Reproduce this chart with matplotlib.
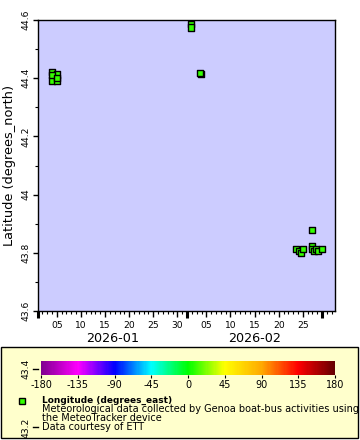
import matplotlib
matplotlib.use('Agg')
import matplotlib.pyplot as plt
import matplotlib.dates as mdates
from matplotlib.colors import LinearSegmentedColormap, Normalize
from matplotlib.patches import Rectangle
from matplotlib.ticker import MultipleLocator
import pandas as pd

# positions of the boat (drawing order matters, later ones sit on top)
times = ['2026-01-03T23:00', '2026-01-03T23:00', '2026-01-04T23:30', '2026-01-04T23:30',
         '2026-01-03T23:00', '2026-01-04T23:30',
         '2026-02-01T20:00', '2026-02-01T20:00',
         '2026-02-03T21:00', '2026-02-03T17:00',
         '2026-02-26T23:00',
         '2026-02-23T15:00', '2026-02-24T06:00', '2026-02-24T16:00', '2026-02-24T23:30',
         '2026-02-26T20:30', '2026-02-26T22:45', '2026-02-27T09:00', '2026-02-27T18:45',
         '2026-02-28T04:45', '2026-02-28T22:00']
lats = [44.421, 44.392, 44.413, 44.392,
        44.410, 44.401,
        44.586, 44.574,
        44.414, 44.419,
        43.878,
        43.813, 43.806, 43.799, 43.813,
        43.823, 43.813, 43.806, 43.813,
        43.806, 43.813]
lons = [8.93, 8.93, 8.92, 8.92,
        8.93, 8.92,
        8.90, 8.90,
        8.91, 8.91,
        8.88,
        8.89, 8.89, 8.88, 8.89,
        8.88, 8.88, 8.89, 8.89,
        8.88, 8.89]

cbar_ticks = [-180, -135, -90, -45, 0, 45, 90, 135, 180]
cbar_colors = ['#800090', '#ff00ff', '#0000ff', '#00ffff', '#00ff00',
               '#ffff00', '#ffaa00', '#ff0000', '#660000']
months = ['2026-01', '2026-02']
month_mid = ['2026-01-16T12:00', '2026-02-15T00:00']
day_ticks = [5, 10, 15, 20, 25, 30]

legend_lines = ['Meteorological data collected by Genoa boat-bus activities using',
                'the MeteoTracker device',
                'Data courtesy of ETT']

W, H = 360, 440


def px(x, y, w, h):
    return [x / W, 1 - (y + h) / H, w / W, h / H]


fig = plt.figure(figsize=(W / 100, H / 100), dpi=100)
cmap = LinearSegmentedColormap.from_list('rainbow2', cbar_colors)
norm = Normalize(-180, 180)

ax = fig.add_axes(px(37.5, 20, 297.5, 291))
ax.set_facecolor('#ccccff')
t = pd.to_datetime(times)
ax.scatter(t, lats, c=lons, cmap=cmap, norm=norm, marker='s', s=20,
           edgecolors='black', linewidths=1.0, zorder=3)

ax.set_ylim(43.6, 44.6)
ax.set_xlim(pd.Timestamp('2026-01-01'), pd.Timestamp('2026-03-03T16:00'))

# x ticks: every 5 days labelled, month starts bold
major = []
labels = []
for m in ['2026-01', '2026-02', '2026-03']:
    major.append(pd.Timestamp(m + '-01'))
    labels.append('')
    if m == '2026-03':
        break
    for d in day_ticks:
        if m == '2026-02' and d > 28:
            continue
        major.append(pd.Timestamp('%s-%02d' % (m, d)))
        labels.append('%02d' % d)
ax.set_xticks(major)
ax.set_xticklabels(labels)
ax.xaxis.set_minor_locator(mdates.DayLocator())
ax.tick_params(axis='x', which='major', length=4, width=1, labelsize=6.6, pad=3)
ax.tick_params(axis='x', which='minor', length=2.2, width=0.8)
for tk, lab in zip(ax.xaxis.get_major_ticks(), labels):
    if lab == '':
        tk.tick1line.set_markersize(5)
        tk.tick1line.set_markeredgewidth(2.2)

ax.yaxis.set_major_locator(MultipleLocator(0.2))
ax.yaxis.set_minor_locator(MultipleLocator(0.1))
ax.yaxis.set_major_formatter(lambda v, p: ('%.1f' % v).rstrip('0').rstrip('.'))
ax.tick_params(axis='y', which='major', length=3.5, width=1, labelsize=6.6, pad=1.5)
ax.tick_params(axis='y', which='minor', length=2, width=0.8)
for lab in ax.get_yticklabels():
    lab.set_rotation(90)
    lab.set_va('center')
for s in ax.spines.values():
    s.set_linewidth(1.0)

ax.set_ylabel('Latitude (degrees_north)', fontsize=9.3, labelpad=4)
for name, mid in zip(months, month_mid):
    ax.text(pd.Timestamp(mid), -0.095, name, transform=ax.get_xaxis_transform(),
            ha='center', va='center', fontsize=9.2)

# legend box
fig.patches.append(Rectangle((1 / W, 1 - 438 / H), 357 / W, 91 / H, transform=fig.transFigure,
                             facecolor='#ffffcc', edgecolor='black', linewidth=1.0, zorder=-1))

# y ticks of the data axis run on below the plot
ytr = ax.get_yaxis_transform()
for v in [43.4, 43.2]:
    ax.plot([-0.016, 0], [v, v], color='black', linewidth=1, transform=ytr, clip_on=False)
    ax.text(-0.022, v, ('%.1f' % v), transform=ytr, rotation=90, ha='right', va='center',
            fontsize=6.6, clip_on=False)

cax = fig.add_axes(px(41, 361, 294, 14))
cb = fig.colorbar(plt.cm.ScalarMappable(norm=norm, cmap=cmap), cax=cax, orientation='horizontal')
cb.outline.set_visible(False)
cb.set_ticks(cbar_ticks)
cb.set_ticklabels([str(v) for v in cbar_ticks])
cax.tick_params(length=2, width=0.8, labelsize=7, pad=1.5)

fig.patches.append(Rectangle(((22 - 3) / W, 1 - (400.5 + 3) / H), 6 / W, 6 / H, transform=fig.transFigure,
                             facecolor=cmap(norm(8.9)), edgecolor='black', linewidth=1.0))
fig.text(42.5 / W, 1 - 400 / H, 'Longitude (degrees_east)', fontsize=6.5, fontweight='bold',
         ha='left', va='center')
for i, line in enumerate(legend_lines):
    fig.text(42.5 / W, 1 - (409 + 9 * i) / H, line, fontsize=7, ha='left', va='center')

fig.savefig('out.png', dpi=100)
